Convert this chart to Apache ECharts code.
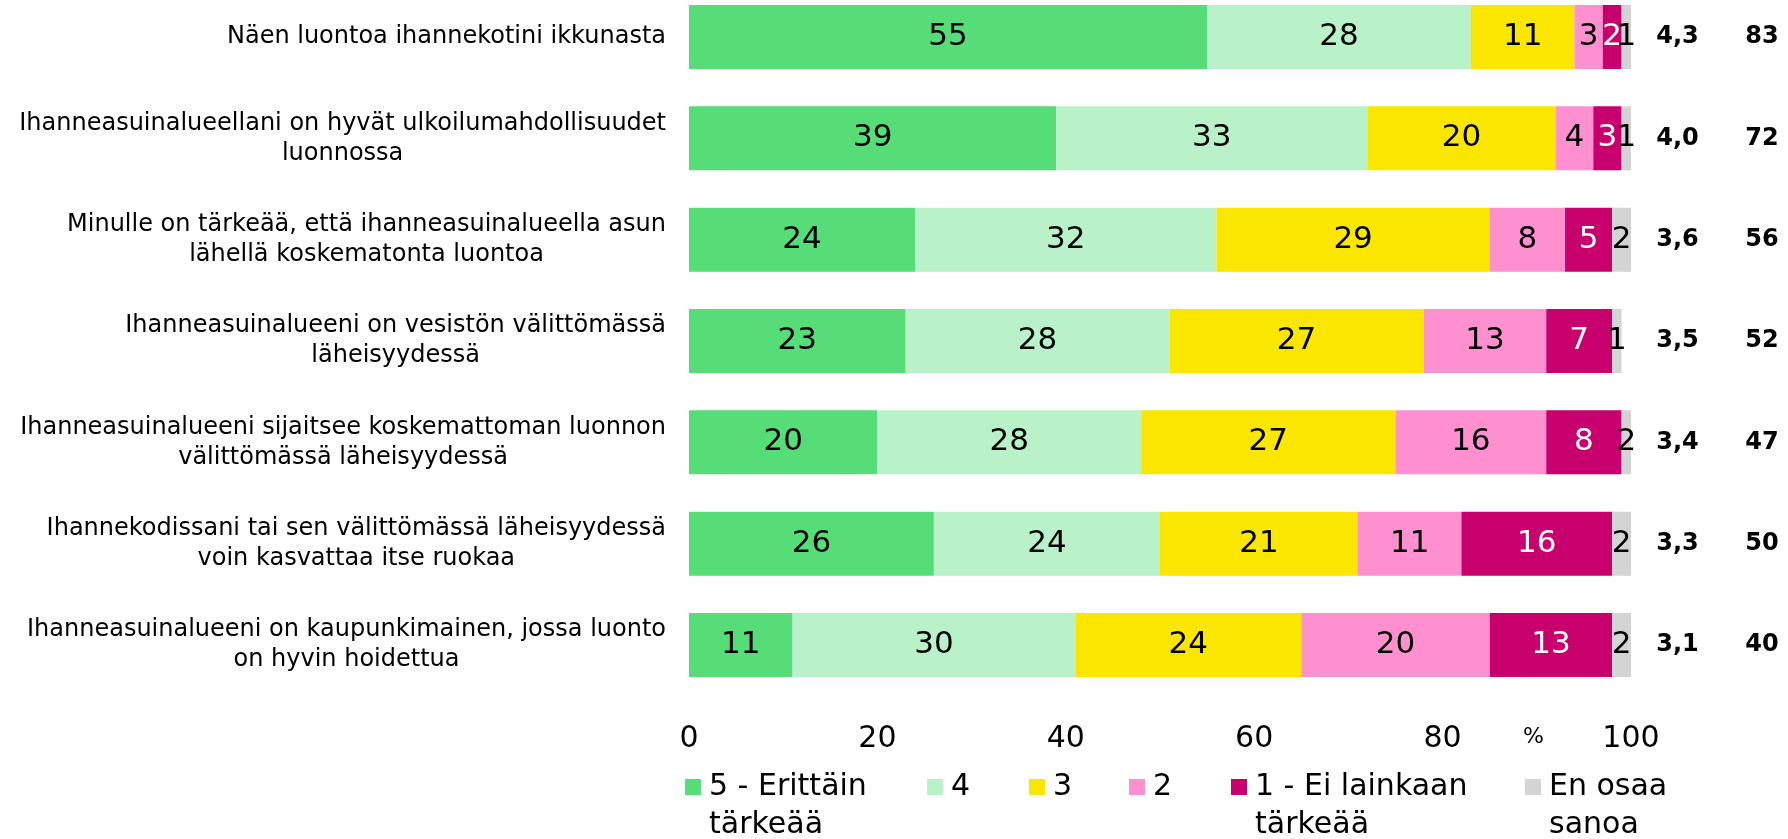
<!DOCTYPE html>
<html>
<head>
<meta charset="utf-8">
<script src="https://cdn.jsdelivr.net/npm/echarts@6/dist/echarts.min.js"></script>
<style>
html,body{margin:0;padding:0;background:#fff;}
#chart{width:1788px;height:839px;}
</style>
</head>
<body>
<div id="chart"></div>
<script>
const categories = [
  'Näen luontoa ihannekotini ikkunasta',
  'Ihanneasuinalueellani on hyvät ulkoilumahdollisuudet\nluonnossa',
  'Minulle on tärkeää, että ihanneasuinalueella asun\nlähellä koskematonta luontoa',
  'Ihanneasuinalueeni on vesistön välittömässä\nläheisyydessä',
  'Ihanneasuinalueeni sijaitsee koskemattoman luonnon\nvälittömässä läheisyydessä',
  'Ihannekodissani tai sen välittömässä läheisyydessä\nvoin kasvattaa itse ruokaa',
  'Ihanneasuinalueeni on kaupunkimainen, jossa luonto\non hyvin hoidettua'
];
const seriesNames = ['5 - Erittäin tärkeää', '4', '3', '2', '1 - Ei lainkaan tärkeää', 'En osaa sanoa'];
const legendLabels = ['5 - Erittäin\ntärkeää', '4', '3', '2', '1 - Ei lainkaan\ntärkeää', 'En osaa\nsanoa'];
const val5 = [55, 39, 24, 23, 20, 26, 11];
const val4 = [28, 33, 32, 28, 28, 24, 30];
const val3 = [11, 20, 29, 27, 27, 21, 24];
const val2 = [3, 4, 8, 13, 16, 11, 20];
const val1 = [2, 3, 5, 7, 8, 16, 13];
const valEOS = [1, 1, 2, 1, 2, 2, 2];
const means = ['4,3', '4,0', '3,6', '3,5', '3,4', '3,3', '3,1'];
const counts = ['83', '72', '56', '52', '47', '50', '40'];
const xMin = 0, xMax = 100, xStep = 20;

const FONT = "'DejaVu Sans', Verdana, sans-serif";
const colors = ['#57DD77', '#B9F1C9', '#FBE600', '#FF90D0', '#C8006E', '#D4D4D4'];
const labelColors = ['#000', '#000', '#000', '#000', '#fff', '#000'];
const values = [val5, val4, val3, val2, val1, valEOS];

const chart = echarts.init(document.getElementById('chart'), null, {renderer: 'canvas'});

const legendLeft = [685, 927, 1029, 1129, 1231, 1525];
const legends = seriesNames.map((n, i) => {
  const multi = legendLabels[i].indexOf('\n') >= 0;
  return {
    data: [n],
    orient: 'horizontal',
    left: legendLeft[i],
    top: multi ? 730 : 768,
    padding: 0,
    itemWidth: 16,
    itemHeight: 16,
    icon: 'rect',
    selectedMode: false,
    formatter: () => (multi ? ' \n' : '') + legendLabels[i],
    textStyle: {
      fontFamily: FONT, fontSize: 30, color: '#000', lineHeight: 38,
      padding: [0, 0, 0, 3]
    }
  };
});

const option = {
  backgroundColor: '#fff',
  animation: false,
  color: colors,
  grid: {left: 689, right: 157, top: -13.67, height: 709.3, containLabel: false, outerBoundsMode: 'none'},
  legend: legends,
  xAxis: {
    type: 'value', min: xMin, max: xMax, interval: xStep,
    axisLine: {show: false}, axisTick: {show: false}, splitLine: {show: false},
    axisLabel: {fontFamily: FONT, fontSize: 30, color: '#000', margin: 29}
  },
  yAxis: [
    {
      type: 'category', data: categories, inverse: true,
      axisLine: {show: false}, axisTick: {show: false}, splitLine: {show: false},
      axisLabel: {
        interval: 0, margin: 23, align: 'right',
        formatter: v => v.split('\n').map(l => '{c|' + l + '}').join('\n'),
        rich: {c: {align: 'center', fontFamily: FONT, fontSize: 24, lineHeight: 30, color: '#000'}}
      }
    },
    {
      type: 'category', data: means, inverse: true, position: 'right',
      axisLine: {show: false}, axisTick: {show: false}, splitLine: {show: false},
      axisLabel: {interval: 0, margin: 46.5, align: 'center', fontFamily: FONT, fontSize: 24, fontWeight: 'bold', color: '#000'}
    },
    {
      type: 'category', data: counts, inverse: true, position: 'right',
      axisLine: {show: false}, axisTick: {show: false}, splitLine: {show: false},
      axisLabel: {interval: 0, margin: 131, align: 'center', fontFamily: FONT, fontSize: 24, fontWeight: 'bold', color: '#000'}
    }
  ],
  series: seriesNames.map((n, i) => ({
    name: n, type: 'bar', stack: 'total', yAxisIndex: 0, barWidth: 64,
    data: values[i],
    itemStyle: {color: colors[i]},
    label: {show: true, position: 'inside', fontFamily: FONT, fontSize: 31, color: labelColors[i]}
  })),
  graphic: [{
    type: 'text', left: 1523, top: 726,
    style: {text: '%', fontFamily: FONT, fontSize: 22, fill: '#000'}
  }]
};
chart.setOption(option);
</script>
</body>
</html>
